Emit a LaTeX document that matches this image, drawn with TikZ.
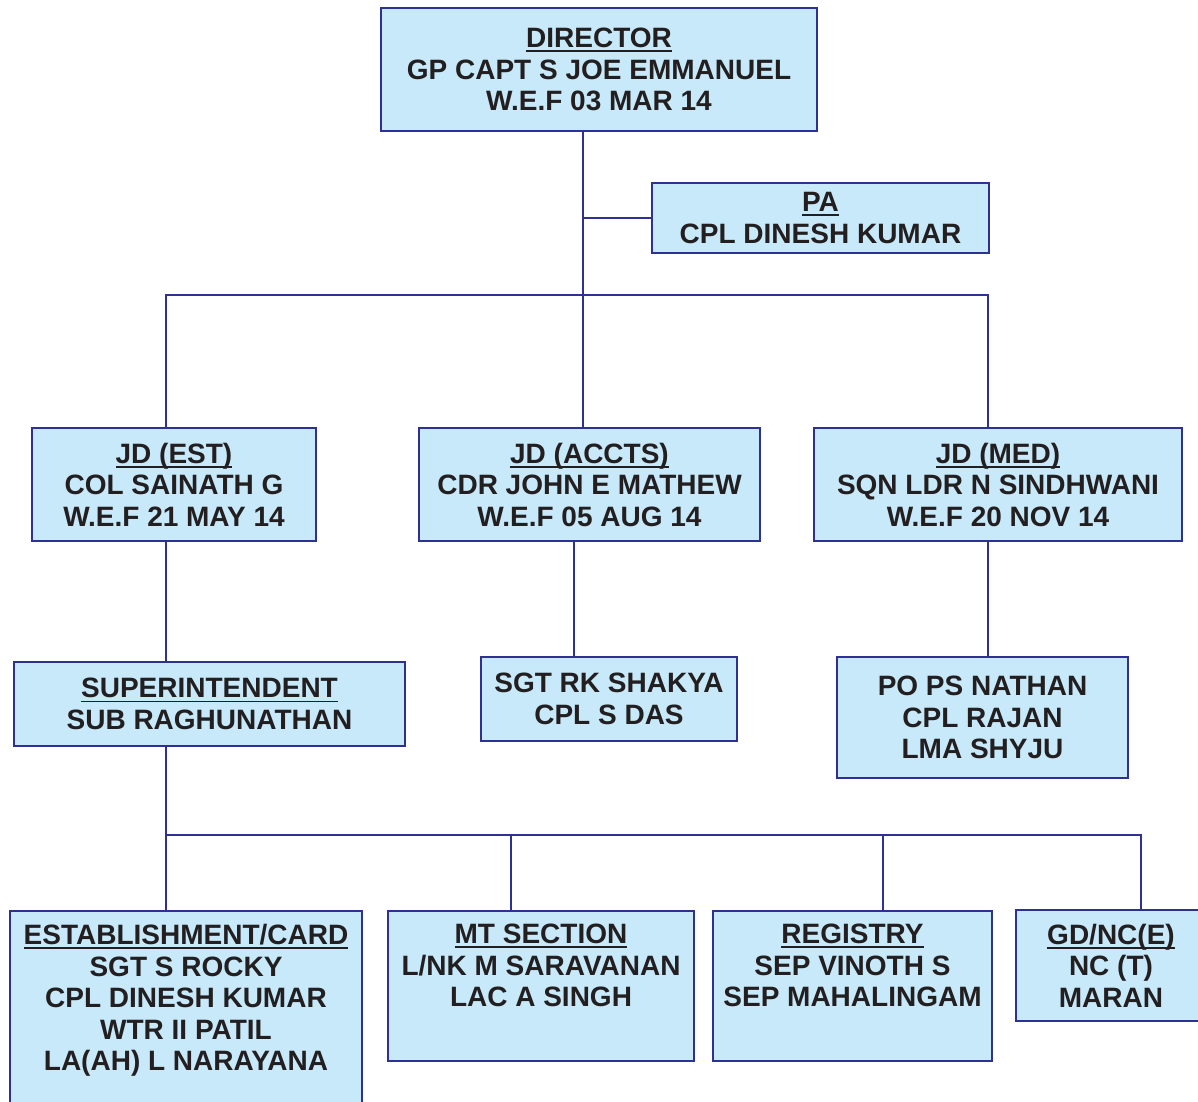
\documentclass[tikz,border=0pt]{standalone}
\usepackage{fontspec}
\setmainfont{Liberation Sans}
\usetikzlibrary{positioning}
\definecolor{boxfill}{RGB}{199,233,250}
\definecolor{boxline}{RGB}{46,49,146}
\definecolor{ink}{RGB}{35,31,32}
\newsavebox\hdbox
\newcommand{\hd}[1]{\sbox\hdbox{#1}\rlap{\rule[-4.5pt]{\wd\hdbox}{1.8pt}}\usebox\hdbox}

\begin{document}
\begin{tikzpicture}[x=1pt,y=-1pt,
              box/.style={draw=boxline,line width=2.6pt,fill=boxfill,text=ink,
                align=center,inner sep=0pt,outer sep=0pt,anchor=north west,
                font=\fontsize{28}{31.5}\selectfont\bfseries},
              txt/.style={text=ink,align=center,inner sep=0pt,
                font=\fontsize{28}{31.5}\selectfont\bfseries},
              link/.style={draw=boxline,line width=2.2pt}]
  \useasboundingbox (0,0) rectangle (1198,1101);
  % top
  \node[box,minimum width=436pt,minimum height=123pt] (dir) at (381,8)
    {\hd{DIRECTOR}\\GP CAPT S JOE EMMANUEL\\W.E.F 03 MAR 14};
  \node[box,minimum width=337pt,minimum height=70pt] (pa) at (652,183)
    {\hd{PA}\\CPL DINESH KUMAR};
  % joint directors
  \node[box,minimum width=284pt,minimum height=113pt] (est) at (32,428)
    {\hd{JD (EST)}\\COL SAINATH G\\W.E.F 21 MAY 14};
  \node[box,minimum width=341pt,minimum height=113pt] (accts) at (419,428)
    {\hd{JD (ACCTS)}\\CDR JOHN E MATHEW\\W.E.F 05 AUG 14};
  \node[box,minimum width=368pt,minimum height=113pt] (med) at (814,428)
    {\hd{JD (MED)}\\SQN LDR N SINDHWANI\\W.E.F 20 NOV 14};
  % staff
  \node[box,minimum width=391pt,minimum height=84pt] (supdt) at (14,662)
    {\hd{SUPERINTENDENT}\\SUB RAGHUNATHAN};
  \node[box,minimum width=256pt,minimum height=84pt] (shakya) at (481,657)
    {SGT RK SHAKYA\\CPL S DAS};
  \node[box,minimum width=291pt,minimum height=121pt] (nathan) at (837,657)
    {PO PS NATHAN\\CPL RAJAN\\LMA SHYJU};
  % sections
  \node[box,minimum width=352pt,minimum height=200pt] (estb) at (10,911) {};
  \node[txt,below=13pt of estb.north] (estbT)
    {\hd{ESTABLISHMENT/CARD}\\SGT S ROCKY\\CPL DINESH KUMAR\\WTR II PATIL\\LA(AH) L NARAYANA};
  \node[box,minimum width=306pt,minimum height=150pt] (mt) at (388,911) {};
  \node[txt,below=13pt of mt.north] (mtT)
    {\hd{MT SECTION}\\L/NK M SARAVANAN\\LAC A SINGH};
  \node[box,minimum width=279pt,minimum height=150pt] (reg) at (713,911) {};
  \node[txt,below=13pt of reg.north] (regT)
    {\hd{REGISTRY}\\SEP VINOTH S\\SEP MAHALINGAM};
  \node[box,minimum width=190pt,minimum height=111pt] (gd) at (1016,910)
    {\hd{GD/NC(E)}\\NC (T)\\MARAN};

  % connectors
  \coordinate (trunk) at (583,295);
  \coordinate (barL) at (166,295);
  \coordinate (barR) at (988,295);
  \coordinate (acL) at (574,600);
  \coordinate (busL) at (166,835);
  \coordinate (busM) at (511,835);
  \coordinate (busN) at (883,835);
  \coordinate (busR) at (1141,835);
  \draw[link] (dir.south -| trunk) -- (accts.north -| trunk);
  \draw[link] (pa.west) -- (pa.west -| trunk);
  \draw[link] (est.north -| barL) -- (barL) -- (barR) -- (med.north -| barR);
  \draw[link] (est.south -| barL) -- (supdt.north -| barL);
  \draw[link] (accts.south -| acL) -- (shakya.north -| acL);
  \draw[link] (med.south -| barR) -- (nathan.north -| barR);
  \draw[link] (supdt.south -| busL) -- (estb.north -| busL);
  \draw[link] (busL) -- (busR) -- (gd.north -| busR);
  \draw[link] (busM) -- (mt.north -| busM);
  \draw[link] (busN) -- (reg.north -| busN);
\end{tikzpicture}
\end{document}
